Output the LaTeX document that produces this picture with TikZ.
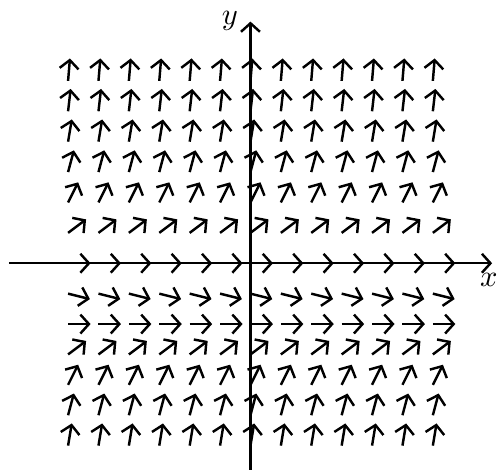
\documentclass[tikz,border=0pt]{standalone}
\usetikzlibrary{arrows.meta}
\begin{document}
\begin{tikzpicture}[x=0.35cm,y=0.35cm,
  fieldarrow/.style={line width=0.8pt,-{Straight Barb[length=2.8pt,width=6.2pt]}},
  axisline/.style={line width=0.8pt,-{Straight Barb[length=2.8pt,width=6.2pt]}}]
\useasboundingbox (-8.24,-6.80) rectangle (8.11,8.66);
\coordinate (xs) at (-7.95,0);
\coordinate (xe) at (7.95,0);
\coordinate (ys) at (0,-6.8);
\coordinate (ye) at (0,7.95);
\draw[axisline] (xs) -- (xe);
\draw[axisline] (ys) -- (ye);
\node[anchor=center] (xl) at (7.84,-0.55) {$x$};
\node[anchor=center] (yl) at (-0.68,7.98) {$y$};
\foreach \j in {-6,...,6}{
  \pgfmathsetmacro{\s}{\j*(\j+2)/4}
  \pgfmathsetmacro{\n}{sqrt(1+\s*\s)}
  \foreach \i in {-6,...,6}{
    \draw[fieldarrow] (\i,\j) -- ++({0.74/\n},{0.74*\s/\n});
  }
}
\end{tikzpicture}
\end{document}
